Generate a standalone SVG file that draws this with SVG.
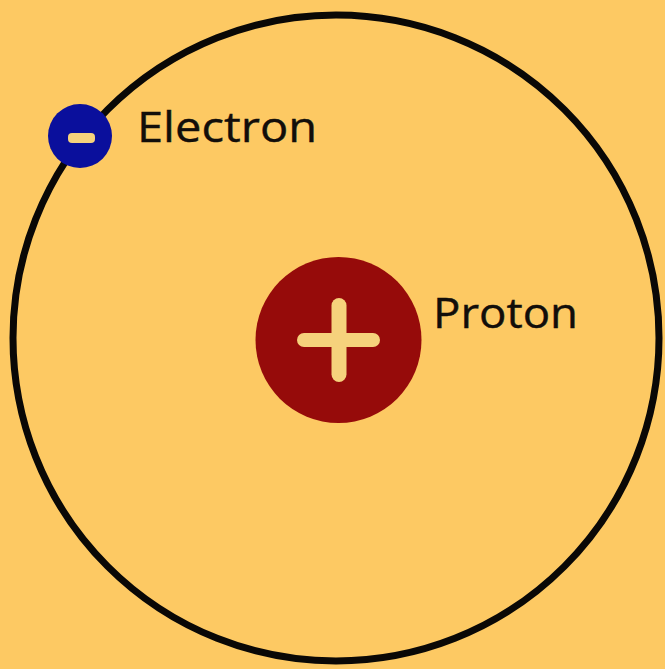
<svg xmlns="http://www.w3.org/2000/svg" width="665" height="669" viewBox="0 0 665 669">
<style>
.lbl{font-family:"Open Sans","Noto Sans","Liberation Sans",sans-serif;font-size:42px;fill:#120e0a;stroke:#120e0a;stroke-width:0.4}
.sign{fill:#f6d27c}
</style>
<rect width="665" height="669" fill="#fdc963"/>
<g id="orbit"><circle cx="336" cy="338" r="323" fill="none" stroke="#0a0806" stroke-width="7"/></g>
<g id="proton">
<circle cx="338.5" cy="340" r="83" fill="#960b0a"/>
<rect class="sign" x="297" y="333" width="83" height="14" rx="7"/>
<rect class="sign" x="331.5" y="298" width="15" height="84" rx="7.5"/>
<text class="lbl" x="433" y="328" textLength="145" lengthAdjust="spacingAndGlyphs">Proton</text>
</g>
<g id="electron">
<circle cx="80" cy="136" r="32" fill="#0a0f9c"/>
<rect class="sign" x="68" y="133" width="27" height="10" rx="4"/>
<text class="lbl" x="137" y="142" textLength="180" lengthAdjust="spacingAndGlyphs">Electron</text>
</g>
</svg>
